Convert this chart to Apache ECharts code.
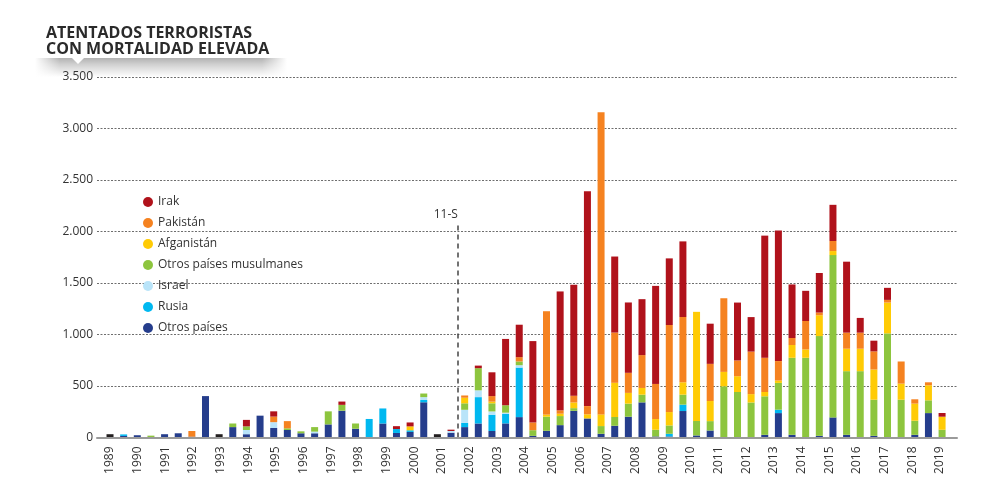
<!DOCTYPE html>
<html>
<head>
<meta charset="utf-8">
<script src="https://cdn.jsdelivr.net/npm/echarts@6/dist/echarts.min.js"></script>
<style>
html,body{margin:0;padding:0;background:#fff;}
#c{width:1003px;height:488px;}
</style>
</head>
<body>
<div id="c"></div>
<script>
// Years (two half-year bars per year)
const years = [1989,1990,1991,1992,1993,1994,1995,1996,1997,1998,1999,2000,2001,2002,2003,2004,2005,2006,2007,2008,2009,2010,2011,2012,2013,2014,2015,2016,2017,2018,2019];
const periods = [];
years.forEach(y => { periods.push(y + ' I'); periods.push(y + ' II'); });

// Series values (deaths per half-year)
const otrosSinLeyenda = [32,0,0,0,0,0,0,0,32,0, 0,0,0,0,0,0,0,0,0,0, 0,0,0,0,32,0,0,0,0,0, 0,0,0,0,0,0,0,0,0,0, 0,0,0,0,0,0,0,0,0,0, 0,0,0,0,0,0,0,0,0,0, 0,0];
const otrosPaises = [0,15,22,0,32,41,8,402,0,101, 32,212,92,73,41,41,127,260,85,0, 136,44,54,342,0,47,101,136,63,137, 198,16,65,120,259,185,36,114,202,341, 10,10,257,20,68,0,0,5,26,237, 26,0,16,195,26,0,16,0,0,26, 237,0];
const rusia = [0,15,0,0,0,0,0,0,0,0, 0,0,0,0,0,0,0,0,0,180, 146,38,16,22,0,0,41,256,158,91, 481,0,0,0,0,0,0,0,0,0, 0,26,62,0,0,0,0,0,0,33, 0,0,0,0,0,0,0,0,0,0, 0,0];
const israel = [0,0,0,0,0,0,0,0,0,0, 41,0,57,0,0,16,0,0,0,0, 0,0,0,28,0,16,127,66,32,13, 23,0,0,0,0,0,0,0,0,0, 0,0,0,0,0,0,0,0,0,0, 0,0,0,0,0,0,0,0,0,0, 0,0];
const musulmanes = [0,0,0,18,0,0,0,0,0,35, 35,0,0,16,19,44,127,57,51,0, 0,0,0,35,0,0,63,215,79,72, 36,55,137,88,26,0,75,85,127,75, 65,81,97,140,91,497,442,335,374,260, 748,774,969,1576,618,644,351,1011,367,137, 124,75];
const afganistan = [0,0,0,0,0,0,0,0,0,0, 0,0,0,0,0,0,0,0,0,0, 0,0,38,0,0,0,54,0,16,0, 0,0,20,23,55,40,113,332,104,65, 104,130,120,1060,195,140,153,81,42,23, 124,81,202,39,218,218,293,299,156,166, 146,127];
const pakistan = [0,0,0,0,0,0,55,0,0,0, 0,0,54,70,0,0,0,0,0,0, 0,0,0,0,0,0,22,0,54,0, 42,75,1004,33,65,80,2933,488,195,319, 341,845,634,0,361,715,153,413,332,189, 68,276,26,98,156,156,176,26,215,42, 29,0];
const irak = [0,0,0,0,0,0,0,0,0,0, 63,0,51,0,0,0,0,32,0,0, 0,28,38,0,0,13,0,25,231,644, 315,790,0,1154,1078,2085,0,738,683,543, 952,647,734,0,390,0,562,335,1186,1268, 520,293,384,351,689,143,104,117,0,0, 0,36];

// Annotation: 11-S between 2001 II and 2002 I
const marker11S = { label: '11-S', position: 25.5, top: 2075 };

const font = 'Open Sans';
const txt = '#333';
const fmt = v => v >= 1000 ? Math.floor(v / 1000) + '.' + String(v % 1000).padStart(3, '0') : String(v);

const chart = echarts.init(document.getElementById('c'), null, { renderer: 'canvas' });

function bar(name, data, color) {
  return {
    name, type: 'bar', stack: 'total', data,
    xAxisIndex: 1, yAxisIndex: 1, barWidth: 7,
    itemStyle: { color }, silent: true
  };
}

chart.setOption({
  animation: false,
  backgroundColor: '#fff',
  textStyle: { fontFamily: font },
  title: {
    text: 'ATENTADOS TERRORISTAS\nCON MORTALIDAD ELEVADA',
    left: 46, top: 25, padding: 0,
    textStyle: { fontFamily: font, fontSize: 16, fontWeight: 'bold', lineHeight: 16, color: '#2a2a2a' }
  },
  graphic: [
    { type: 'rect', z: -1, shape: { x: 35, y: 58, width: 252, height: 19 },
      style: { fill: new echarts.graphic.LinearGradient(0, 0, 0, 1, [
        { offset: 0, color: 'rgba(0,0,0,0.30)' }, { offset: 0.35, color: 'rgba(0,0,0,0.18)' }, { offset: 1, color: 'rgba(0,0,0,0)' }]) } },
    { type: 'rect', z: -1, shape: { x: 35, y: 57, width: 25, height: 21 },
      style: { fill: new echarts.graphic.LinearGradient(0, 0, 1, 0, [
        { offset: 0, color: 'rgba(255,255,255,1)' }, { offset: 1, color: 'rgba(255,255,255,0)' }]) } },
    { type: 'rect', z: -1, shape: { x: 262, y: 57, width: 25, height: 21 },
      style: { fill: new echarts.graphic.LinearGradient(0, 0, 1, 0, [
        { offset: 0, color: 'rgba(255,255,255,0)' }, { offset: 1, color: 'rgba(255,255,255,1)' }]) } },
    { type: 'polygon', z: -1, shape: { points: [[71, 57], [85, 57], [78, 64]] }, style: { fill: '#fff' } }
  ],
  legend: {
    orient: 'vertical', left: 138, top: 190, itemWidth: 10, itemHeight: 10, itemGap: 7,
    icon: 'circle', selectedMode: false,
    data: ['Irak', 'Pakistán', 'Afganistán', 'Otros países musulmanes', 'Israel', 'Rusia', 'Otros países'],
    textStyle: { fontFamily: font, fontSize: 12, color: txt, lineHeight: 14 }
  },
  grid: [
    { left: 97, right: 46, top: 77, bottom: 50.5 },
    { left: 103.2, width: 845.7, top: 77, bottom: 50.5 },
    { left: 110, width: 830, top: 77, bottom: 50.5 }
  ],
  xAxis: [
    { gridIndex: 0, type: 'category', data: periods, axisTick: { show: false }, axisLabel: { show: false },
      axisLine: { show: true, lineStyle: { color: '#9a9a9a', width: 2 } }, z: 5 },
    { gridIndex: 1, type: 'category', data: periods, show: false },
    { gridIndex: 2, type: 'category', data: years, boundaryGap: false,
      axisLine: { show: false }, axisTick: { show: false }, splitLine: { show: false },
      axisLabel: { interval: 0, rotate: 90, margin: 9, fontSize: 12, color: txt, fontFamily: font } },
    { gridIndex: 1, type: 'value', min: -0.5, max: periods.length - 0.5, show: false }
  ],
  yAxis: [
    { gridIndex: 0, type: 'value', min: 0, max: 3500, interval: 500,
      axisLine: { show: false }, axisTick: { show: false },
      axisLabel: { margin: 4, fontSize: 12, color: txt, fontFamily: font, formatter: fmt },
      splitLine: { show: true, lineStyle: { type: [2, 1.5], color: '#6e6e6e', width: 1 } } },
    { gridIndex: 1, type: 'value', min: 0, max: 3500, interval: 500, show: false },
    { gridIndex: 2, type: 'value', min: 0, max: 3500, show: false }
  ],
  series: [
    bar('Otros', otrosSinLeyenda, '#231f20'),
    bar('Otros países', otrosPaises, '#253d8c'),
    bar('Rusia', rusia, '#00b8f0'),
    bar('Israel', israel, '#b9e4f9'),
    bar('Otros países musulmanes', musulmanes, '#8dc53e'),
    bar('Afganistán', afganistan, '#ffcb05'),
    bar('Pakistán', pakistan, '#f58220'),
    bar('Irak', irak, '#b0121b'),
    {
      type: 'line', name: '11-S', data: [], xAxisIndex: 3, yAxisIndex: 1, silent: true,
      markLine: {
        symbol: 'none', silent: true, animation: false,
        lineStyle: { type: [5, 4], color: '#444', width: 1.5 },
        label: { show: true, position: 'end', formatter: marker11S.label, color: txt, fontSize: 12, fontFamily: font, align: 'right', distance: 3 },
        data: [[{ coord: [marker11S.position, 0] }, { coord: [marker11S.position, marker11S.top] }]]
      }
    }
  ]
});
</script>
</body>
</html>
